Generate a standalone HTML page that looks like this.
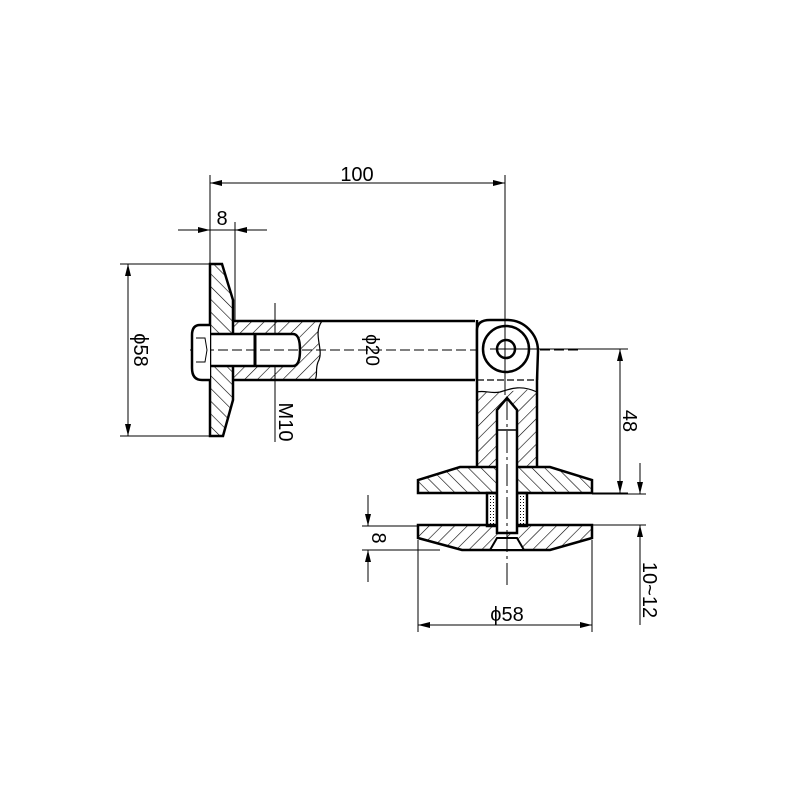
<!DOCTYPE html>
<html><head><meta charset="utf-8"><style>html,body{margin:0;padding:0;background:#fff}svg{display:block}</style></head><body>
<svg width="800" height="800" viewBox="0 0 800 800" xmlns="http://www.w3.org/2000/svg" font-family="Liberation Sans, DejaVu Sans, sans-serif">
<defs>
<pattern id="h1" patternUnits="userSpaceOnUse" width="9" height="9" patternTransform="rotate(45)"><line x1="0" y1="0" x2="0" y2="9" stroke="#000" stroke-width="1.2"/></pattern>
<pattern id="h2" patternUnits="userSpaceOnUse" width="9" height="9" patternTransform="rotate(-45)"><line x1="0" y1="0" x2="0" y2="9" stroke="#000" stroke-width="1.2"/></pattern>
<pattern id="dots" patternUnits="userSpaceOnUse" width="3" height="3"><rect x="1" y="1" width="1" height="1" fill="#000"/></pattern>
<marker id="a" viewBox="0 0 12 6" refX="12" refY="3" markerWidth="12" markerHeight="6" orient="auto-start-reverse" markerUnits="userSpaceOnUse"><path d="M0,0 L12,3 L0,6 z" fill="#000"/></marker>
</defs>
<rect width="800" height="800" fill="#fff"/>
<g stroke="#000" fill="none" stroke-width="1">
<line x1="210" y1="175" x2="210" y2="263"/><line x1="505" y1="175" x2="505" y2="320"/>
<line x1="210" y1="183" x2="505" y2="183" marker-start="url(#a)" marker-end="url(#a)"/>
<line x1="235" y1="222" x2="235" y2="320"/>
<line x1="178" y1="230" x2="210" y2="230" marker-end="url(#a)"/>
<line x1="267" y1="230" x2="235" y2="230" marker-end="url(#a)"/>
<line x1="210" y1="230" x2="235" y2="230"/>
<line x1="120" y1="264" x2="210" y2="264"/><line x1="120" y1="436" x2="210" y2="436"/>
<line x1="128" y1="264" x2="128" y2="436" marker-start="url(#a)" marker-end="url(#a)"/>
<line x1="275" y1="303" x2="275" y2="442"/>
<line x1="537" y1="349" x2="628" y2="349"/><line x1="592" y1="493" x2="628" y2="493"/>
<line x1="620" y1="349" x2="620" y2="493" marker-start="url(#a)" marker-end="url(#a)"/>
<line x1="592" y1="494" x2="646" y2="494"/><line x1="592" y1="525" x2="646" y2="525"/>
<line x1="640" y1="463" x2="640" y2="494" marker-end="url(#a)"/>
<line x1="640" y1="625" x2="640" y2="525" marker-end="url(#a)"/>
<line x1="362" y1="526" x2="418" y2="526"/><line x1="362" y1="550" x2="440" y2="550"/>
<line x1="368" y1="495" x2="368" y2="526" marker-end="url(#a)"/>
<line x1="368" y1="582" x2="368" y2="550" marker-end="url(#a)"/>
<line x1="418" y1="540" x2="418" y2="632"/><line x1="592" y1="540" x2="592" y2="632"/>
<line x1="418" y1="625" x2="592" y2="625" marker-start="url(#a)" marker-end="url(#a)"/>
<line x1="190" y1="350" x2="580" y2="350" stroke-dasharray="10,4"/>
</g>
<path d="M210,264 L222,264 L233,300 L233,400 L223,436 L210,436 Z" fill="url(#h2)" stroke="#000" stroke-width="2.5"/>
<path d="M233,321 L322,321 C312,335 325,350 318,362 C315,370 318,375 315,380 L233,380 Z" fill="url(#h1)" stroke="none"/>
<path d="M233,321 L475,321 M233,380 L475,380" stroke="#000" stroke-width="2.5" fill="none"/>
<path d="M322,321 C312,335 325,350 318,362 C315,370 318,375 315,380" stroke="#000" stroke-width="1.2" fill="none"/>
<path d="M210,334 L293,334 Q300,334 300,350 Q300,366 293,366 L210,366 Z" fill="#fff" stroke="#000" stroke-width="2.5"/>
<line x1="255" y1="334" x2="255" y2="366" stroke="#000" stroke-width="3"/>
<line x1="190" y1="350" x2="300" y2="350" stroke="#000" stroke-dasharray="10,4"/>
<path d="M210,325 L200,325 Q192,325 192,335 L192,368 Q192,380 202,380 L210,380" fill="#fff" stroke="#000" stroke-width="2.5"/>
<path d="M196,338 L205,338 L207,350 L205,362 L196,362" fill="none" stroke="#000" stroke-width="1"/>
<path d="M477,380 L537,380 L537,467 L477,467 Z" fill="url(#h1)" stroke="none"/>
<path d="M477,380 L537,380 L537,392 C520,385 510,395 495,392 C485,390 480,395 477,392 Z" fill="#fff" stroke="none"/>
<path d="M477,392 C485,390 490,394 500,392 C512,388 522,385 537,392" fill="none" stroke="#000" stroke-width="1.2"/>
<path d="M477,320 L477,467 M537,370 L537,467" stroke="#000" stroke-width="2.5" fill="none"/>
<path d="M477,380 L477,330 Q477,320 490,320 L507,320 A31,31 0 0 1 538,351 L537,380" fill="#fff" stroke="#000" stroke-width="2.5"/>
<line x1="477" y1="380" x2="537" y2="380" stroke="#000" stroke-width="1.2" stroke-dasharray="7,3"/>
<circle cx="506" cy="349" r="23" fill="none" stroke="#000" stroke-width="2.5"/>
<circle cx="506" cy="349" r="9" fill="none" stroke="#000" stroke-width="2.5"/>
<line x1="490" y1="349" x2="545" y2="349" stroke="#000"/>
<path d="M460,467 L550,467 L592,480 L592,493 L418,493 L418,480 Z" fill="url(#h2)" stroke="#000" stroke-width="2.5"/>
<rect x="487" y="493" width="10" height="33" fill="url(#dots)" stroke="#000" stroke-width="2.5"/>
<rect x="517" y="493" width="10" height="33" fill="url(#dots)" stroke="#000" stroke-width="2.5"/>
<path d="M418,525 L592,525 L592,538 L550,550 L462,550 L418,538 Z" fill="url(#h1)" stroke="#000" stroke-width="2.5"/>
<path d="M490,550 L497,538 L517,538 L524,550 Z" fill="#fff" stroke="#000" stroke-width="2"/>
<path d="M497,533 L497,410 L507,398 L517,410 L517,533 Z" fill="#fff" stroke="#000" stroke-width="2.5"/>
<line x1="497" y1="430" x2="517" y2="430" stroke="#000" stroke-width="1.5"/>
<line x1="507" y1="398" x2="507" y2="585" stroke="#000" stroke-dasharray="22,4,3,4"/>
<line x1="505" y1="300" x2="505" y2="395" stroke="#000"/>
<g font-size="20" fill="#000">
<text x="357" y="181" text-anchor="middle">100</text>
<text x="222" y="225" text-anchor="middle">8</text>
<text transform="translate(134,350) rotate(90)" text-anchor="middle">ϕ58</text>
<text transform="translate(366,350) rotate(90)" text-anchor="middle" font-size="19">ϕ20</text>
<text transform="translate(279,422) rotate(90)" text-anchor="middle">M10</text>
<text transform="translate(623,421) rotate(90)" text-anchor="middle">48</text>
<text transform="translate(372,538) rotate(90)" text-anchor="middle">8</text>
<text transform="translate(643,590) rotate(90)" text-anchor="middle">10~12</text>
<text x="507" y="621" text-anchor="middle">ϕ58</text>
</g>
</svg>
</body></html>
